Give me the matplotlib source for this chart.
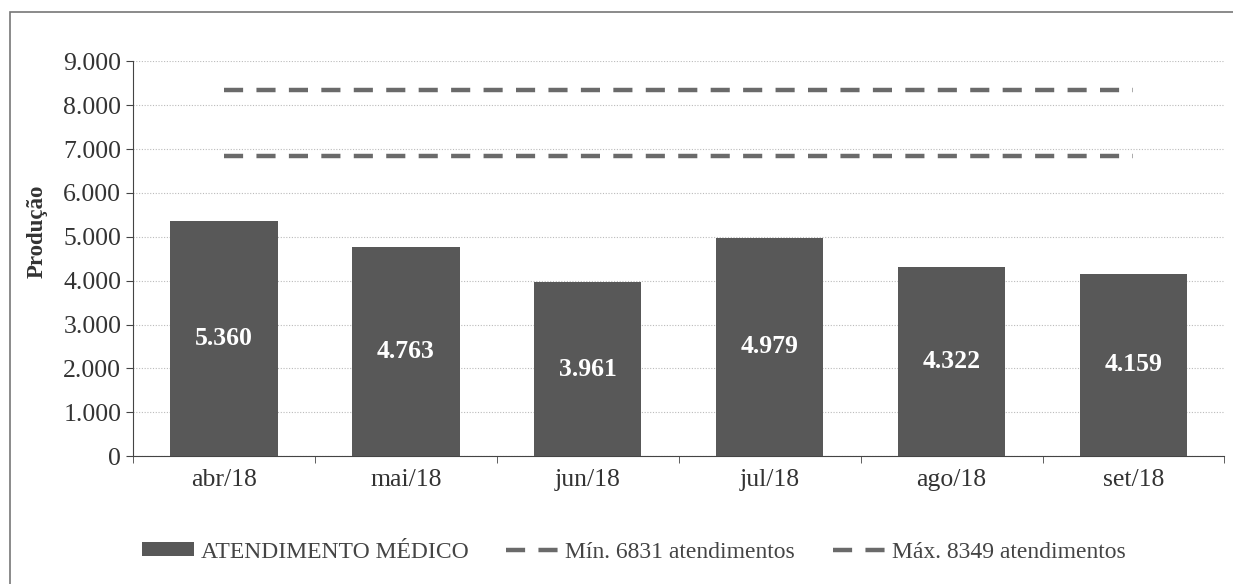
import matplotlib
matplotlib.use("Agg")
import matplotlib.pyplot as plt
from matplotlib.patches import Rectangle
from matplotlib.ticker import FuncFormatter, FixedLocator, NullFormatter

categories = ["abr/18", "mai/18", "jun/18", "jul/18", "ago/18", "set/18"]
atendimentos = [5360, 4763, 3961, 4979, 4322, 4159]
minimo = [6831] * 6
maximo = [8349] * 6

plt.rcParams['font.family'] = ['Liberation Serif', 'DejaVu Serif']

fig = plt.figure(figsize=(12.33, 5.84), dpi=100)
ax = fig.add_axes([0.108, 0.219, 0.885, 0.676])

x = list(range(len(categories)))
bars = ax.bar(x, atendimentos, width=0.59, color="#585858", zorder=3,
              label="ATENDIMENTO MÉDICO")
l1, = ax.plot(x, minimo, linestyle=(0, (4.3, 3)), color="#6a6a6a", lw=3.2, zorder=4,
              label="Mín. 6831 atendimentos")
l2, = ax.plot(x, maximo, linestyle=(0, (4.3, 3)), color="#6a6a6a", lw=3.2, zorder=4,
              label="Máx. 8349 atendimentos")

for xi, v in zip(x, atendimentos):
    ax.text(xi, v / 2, f"{v:,}".replace(",", "."), ha="center", va="center",
            color="white", fontsize=18.5, fontweight="bold", zorder=5)

ax.set_xlim(-0.5, len(categories) - 0.5)
ax.set_ylim(0, 9000)
ax.set_yticks(range(0, 9001, 1000))
ax.yaxis.set_major_formatter(FuncFormatter(lambda v, p: f"{int(v):,}".replace(",", ".")))
ax.set_xticks(x)
ax.set_xticklabels(categories)
ax.tick_params(axis="x", which="major", length=0, labelsize=18.5, pad=9)
ax.xaxis.set_minor_locator(FixedLocator([i - 0.5 for i in range(len(categories) + 1)]))
ax.xaxis.set_minor_formatter(NullFormatter())
ax.tick_params(axis="x", which="minor", length=5, color="#444444")
ax.tick_params(axis="y", labelsize=18.5, length=5, color="#444444")
for lab in ax.get_yticklabels() + ax.get_xticklabels():
    lab.set_color("#333333")

ax.grid(axis="y", linestyle=(0, (1, 1.5)), color="#bbbbbb", lw=0.8, zorder=0)
for s in ["top", "right"]:
    ax.spines[s].set_visible(False)
ax.spines["left"].set_color("#444444")
ax.spines["bottom"].set_color("#444444")

ax.set_ylabel("Produção", fontsize=16.5, fontweight="bold", color="#333333")
ax.yaxis.set_label_coords(-0.078, 0.57)

fig.legend(handles=[bars, l1, l2], loc="center", bbox_to_anchor=(0.514, 1 - 552 / 584),
           ncol=3, frameon=False, fontsize=17, handlelength=2.2, handleheight=0.5,
           columnspacing=1.6, handletextpad=0.3, labelcolor="#444444")

fig.patches.append(Rectangle((10 / 1233, -0.1), 1.2, 1 - 12 / 584 + 0.1,
                             transform=fig.transFigure, fill=False,
                             edgecolor="#777777", lw=1.2))

fig.savefig("out.png", dpi=100)
